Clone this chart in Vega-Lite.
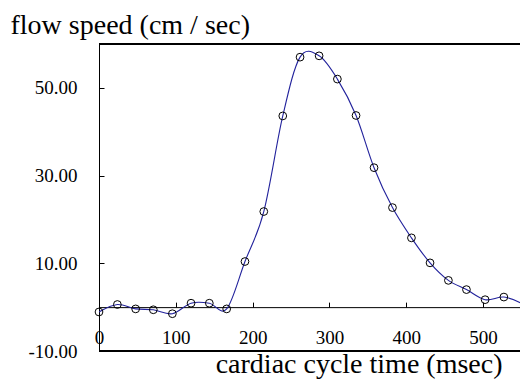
{
  "$schema": "https://vega.github.io/schema/vega-lite/v6.json",
  "autosize": {"type": "none"},
  "padding": {"left": 99, "top": 44, "right": 0, "bottom": 28},
  "width": 421,
  "height": 307,
  "background": "white",
  "config": {"view": {"stroke": null}},
  "data": {
    "values": [
      {"t": 0, "v": -1.1},
      {"t": 23.9, "v": 0.6},
      {"t": 47.7, "v": -0.4},
      {"t": 70.7, "v": -0.6},
      {"t": 95.5, "v": -1.5},
      {"t": 119.8, "v": 0.9},
      {"t": 143.6, "v": 0.9},
      {"t": 166.2, "v": -0.4},
      {"t": 190, "v": 10.4},
      {"t": 214.5, "v": 21.8},
      {"t": 239.2, "v": 43.6},
      {"t": 261.7, "v": 57.0},
      {"t": 286.5, "v": 57.3},
      {"t": 310.3, "v": 52.0},
      {"t": 334.6, "v": 43.7},
      {"t": 358, "v": 31.8},
      {"t": 382, "v": 22.7},
      {"t": 406.7, "v": 15.8},
      {"t": 430.9, "v": 10.1},
      {"t": 454.8, "v": 6.1},
      {"t": 478.3, "v": 4.0},
      {"t": 502.6, "v": 1.7},
      {"t": 527, "v": 2.3},
      {"t": 551, "v": 0.8}
    ]
  },
  "layer": [
    {
      "mark": {"type": "rule", "color": "black", "strokeWidth": 1},
      "encoding": {"y": {"datum": 60, "type": "quantitative"}}
    },
    {
      "mark": {"type": "rule", "color": "black", "strokeWidth": 1},
      "encoding": {"y": {"datum": -10, "type": "quantitative"}}
    },
    {
      "mark": {"type": "line", "color": "#22229c", "strokeWidth": 1.1, "interpolate": "cardinal", "clip": true},
      "encoding": {
        "x": {
          "field": "t", "type": "quantitative",
          "scale": {"domain": [0, 548], "nice": false, "zero": false},
          "axis": {
            "orient": "bottom",
            "offset": -43.86,
            "values": [0, 100, 200, 300, 400, 500],
            "format": "d",
            "grid": false,
            "tickSize": -5,
            "labelPadding": 26,
            "labelFlush": false,
            "labelFont": "Times New Roman, Liberation Serif, serif",
            "labelFontSize": 19,
            "labelColor": "black",
            "domainColor": "black",
            "tickColor": "black",
            "title": "cardiac cycle time (msec)",
            "titleFont": "Times New Roman, Liberation Serif, serif",
            "titleFontSize": 28,
            "titleFontWeight": "normal",
            "titleColor": "black",
            "titleAlign": "right",
            "titleBaseline": "alphabetic",
            "titleX": 403,
            "titleY": 65
          }
        },
        "y": {
          "field": "v", "type": "quantitative",
          "scale": {"domain": [-10, 60], "nice": false, "zero": false},
          "axis": {
            "orient": "left",
            "values": [-10, 10, 30, 50],
            "format": ".2f",
            "labelExpr": "replace(datum.label, '\u2212', '-')",
            "grid": false,
            "tickSize": -5,
            "labelPadding": 27,
            "labelFont": "Times New Roman, Liberation Serif, serif",
            "labelFontSize": 19,
            "labelColor": "black",
            "domainColor": "black",
            "tickColor": "black",
            "title": "flow speed (cm / sec)",
            "titleFont": "Times New Roman, Liberation Serif, serif",
            "titleFontSize": 28,
            "titleFontWeight": "normal",
            "titleColor": "black",
            "titleAngle": 0,
            "titleAlign": "left",
            "titleBaseline": "alphabetic",
            "titleX": -89,
            "titleY": -11
          }
        }
      }
    },
    {
      "transform": [{"filter": "datum.t <= 548"}],
      "mark": {"type": "point", "shape": "circle", "filled": false, "stroke": "black", "strokeWidth": 1, "size": 60, "clip": false, "opacity": 1},
      "encoding": {
        "x": {"field": "t", "type": "quantitative"},
        "y": {"field": "v", "type": "quantitative"}
      }
    }
  ]
}
